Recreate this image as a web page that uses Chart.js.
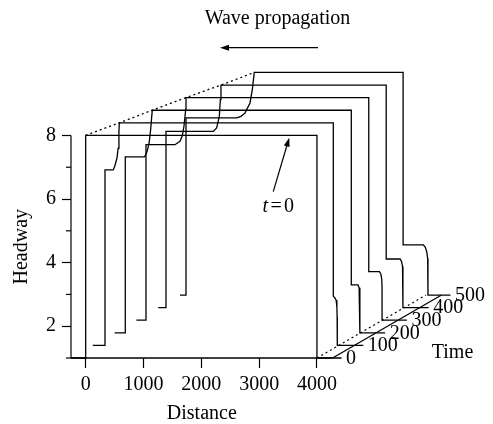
<!DOCTYPE html>
<html>
<head>
<meta charset="utf-8">
<script src="https://cdn.jsdelivr.net/npm/chart.js@4.4.1/dist/chart.umd.min.js"></script>
<style>
  html, body { margin: 0; padding: 0; background: #fff; }
</style>
</head>
<body>
<canvas id="waveChart" width="493" height="424"></canvas>
<script>
// time slices and the headway profile of each slice (distance, headway)
const times = [0, 100, 200, 300, 400, 500];

const dist0 = [0, 0, 4000, 4000];
const head0 = [1, 8, 8, 1];

const dist100 = [-43, -43, 100, 130, 165, 185, 198, 204, 3906, 3906, 3930, 3955, 3968, 3972, 3975];
const head100 = [1, 6.52, 6.52, 6.66, 6.9, 7.2, 7.7, 8, 8, 2.55, 2.5, 2.42, 2.2, 1.9, 1];

const dist200 = [-69, -69, 259, 285, 315, 345, 370, 388, 398, 3840, 3840, 3955, 3975, 3985, 3990, 3990];
const head200 = [1, 6.53, 6.53, 6.6, 6.75, 7.0, 7.4, 7.8, 8, 8, 2.51, 2.51, 2.42, 2.2, 1.9, 1];

const dist300 = [-88, -88, 413, 500, 540, 569, 599, 604, 3765, 3765, 3950, 3975, 3990, 3995, 3995];
const head300 = [1, 6.52, 6.52, 6.63, 6.8, 7.1, 7.63, 8, 8, 2.53, 2.53, 2.45, 2.28, 2.0, 1];

const dist400 = [-119, -119, 699, 757, 803, 821, 832, 3690, 3690, 3929, 3955, 3972, 3978, 3980];
const head400 = [1, 6.54, 6.54, 6.65, 7.01, 7.54, 8, 8, 2.53, 2.53, 2.45, 2.3, 2.05, 1];

const dist500 = [-150, -150, 727, 800, 870, 957, 997, 1031, 3605, 3605, 3955, 3990, 4015, 4030, 4035, 4035];
const head500 = [1, 6.57, 6.57, 6.62, 6.72, 7.04, 7.46, 8, 8, 2.58, 2.58, 2.5, 2.35, 2.15, 1.9, 1];

const sliceDist = [dist0, dist100, dist200, dist300, dist400, dist500];
const sliceHead = [head0, head100, head200, head300, head400, head500];

// where each slice first reaches the top level (dotted front line)
const frontDist = [0, 204, 398, 604, 832, 1031];

const distTicks = [0, 1000, 2000, 3000, 4000];
const headTicks = [1, 2, 3, 4, 5, 6, 7, 8];

// pseudo 3d: each time step moves the slice right and up
const SHIFT_X = 3.77;      // distance units per unit time
const SHIFT_Y = 0.00396;   // headway units per unit time
const FLOOR_START = -254;
const FLOOR_END = 4270;
const X_MIN = -254, X_MAX = 6820;
const Y_MIN = 1, Y_MAX = 10.686;

function project(d, h, t) {
    return { x: d + t * SHIFT_X, y: h + t * SHIFT_Y };
}

const datasets = [];

times.forEach((t, i) => {
    const pts = [project(FLOOR_START, 1, t)];
    sliceDist[i].forEach((d, j) => pts.push(project(d, sliceHead[i][j], t)));
    pts.push(project(FLOOR_END, 1, t));
    datasets.push({ data: pts });
});

// front distance axis
datasets.push({ data: [project(FLOOR_START, 1, 0), project(FLOOR_END, 1, 0)] });

// time axis and its tick marks
const last = times[times.length - 1];
datasets.push({ data: [project(FLOOR_END, 1, 0), project(FLOOR_END, 1, last)] });
const timeTickPts = [];
times.forEach(t => {
    timeTickPts.push(project(FLOOR_END, 1, t));
    timeTickPts.push(project(FLOOR_END + 155, 1, t));
    timeTickPts.push({ x: FLOOR_END + t * SHIFT_X, y: null });
});
datasets.push({ data: timeTickPts });

// dotted edges
datasets.push({ data: times.map((t, i) => project(frontDist[i], 8, t)), borderDash: [2, 3] });
datasets.push({ data: [project(4000, 1, 0), project(4000, 1, last)], borderDash: [2, 3] });

function arrow(ctx, x0, y0, x1, y1, len, half) {
    const a = Math.atan2(y1 - y0, x1 - x0);
    ctx.beginPath();
    ctx.moveTo(x0, y0);
    ctx.lineTo(x1 - Math.cos(a) * len * 0.8, y1 - Math.sin(a) * len * 0.8);
    ctx.stroke();
    ctx.beginPath();
    ctx.moveTo(x1, y1);
    ctx.lineTo(x1 - Math.cos(a) * len + Math.sin(a) * half, y1 - Math.sin(a) * len - Math.cos(a) * half);
    ctx.lineTo(x1 - Math.cos(a) * len - Math.sin(a) * half, y1 - Math.sin(a) * len + Math.cos(a) * half);
    ctx.closePath();
    ctx.fill();
}

const annotations = {
    id: 'annotations',
    afterDatasetsDraw(chart) {
        const ctx = chart.ctx;
        const xs = chart.scales.x, ys = chart.scales.y;
        const left = chart.chartArea.left;
        ctx.save();
        ctx.strokeStyle = '#000';
        ctx.fillStyle = '#000';
        ctx.lineWidth = 1.2;

        // front headway axis
        const ax = xs.getPixelForValue(FLOOR_START);
        ctx.beginPath();
        ctx.moveTo(ax, ys.getPixelForValue(1) + 0.6);
        ctx.lineTo(ax, ys.getPixelForValue(8));
        ctx.stroke();

        // short ticks on odd headway values
        headTicks.filter(v => v % 2 === 1).forEach(v => {
            const py = ys.getPixelForValue(v);
            ctx.beginPath();
            ctx.moveTo(left - 5, py);
            ctx.lineTo(left, py);
            ctx.stroke();
        });

        ctx.font = '20px "Liberation Serif", "Times New Roman", serif';

        // time tick labels
        ctx.textAlign = 'left';
        ctx.textBaseline = 'middle';
        times.forEach(t => {
            const p = project(FLOOR_END, 1, t);
            ctx.fillText(String(t), xs.getPixelForValue(p.x) + 13.5, ys.getPixelForValue(p.y) + 0.5);
        });

        ctx.textBaseline = 'alphabetic';
        ctx.textAlign = 'center';
        const axL = xs.getPixelForValue(FLOOR_START), axR = xs.getPixelForValue(FLOOR_END);
        ctx.fillText('Distance', (axL + axR) / 2, 418.5);
        ctx.fillText('Time', 452.5, 358);
        ctx.fillText('Wave propagation', 277.5, 23.5);

        ctx.save();
        ctx.translate(26.5, (ys.getPixelForValue(1) + ys.getPixelForValue(8)) / 2);
        ctx.rotate(-Math.PI / 2);
        ctx.fillText('Headway', 0, 0);
        ctx.restore();

        // propagation arrow
        arrow(ctx, 318, 47.7, 220, 47.7, 9, 3);

        // t = 0 label and arrow
        ctx.textAlign = 'left';
        ctx.font = 'italic 20px "Liberation Serif", "Times New Roman", serif';
        ctx.fillText('t', 262.5, 211.7);
        ctx.font = '20px "Liberation Serif", "Times New Roman", serif';
        ctx.fillText('=', 270.5, 211.7);
        ctx.fillText('0', 284, 211.7);
        arrow(ctx, xs.getPixelForValue(3244), ys.getPixelForValue(6.23),
              xs.getPixelForValue(3521), ys.getPixelForValue(7.93), 9, 3);
        ctx.restore();
    }
};

Chart.defaults.font.family = '"Liberation Serif", "Times New Roman", serif';
Chart.defaults.font.size = 20;
Chart.defaults.color = '#000';

new Chart(document.getElementById('waveChart'), {
    type: 'line',
    data: { datasets: datasets },
    options: {
        responsive: false,
        animation: false,
        layout: { padding: { top: 50, right: 13, left: 0, bottom: 0 } },
        plugins: { legend: { display: false }, tooltip: { enabled: false } },
        datasets: { line: { clip: false } },
        elements: {
            point: { radius: 0 },
            line: { borderWidth: 1.3, borderColor: '#000', tension: 0, fill: false }
        },
        scales: {
            x: {
                type: 'linear',
                min: X_MIN,
                max: X_MAX,
                afterFit: s => { s.height = 66; },
                afterBuildTicks: s => { s.ticks = distTicks.map(v => ({ value: v })); },
                grid: { drawOnChartArea: false, drawTicks: true, tickLength: 10, tickColor: '#000', tickWidth: 1.2 },
                border: { display: false },
                ticks: { padding: 5, autoSkip: false, maxRotation: 0, callback: v => String(v) }
            },
            y: {
                type: 'linear',
                min: Y_MIN,
                max: Y_MAX,
                afterFit: s => { s.width = 71; },
                afterBuildTicks: s => { s.ticks = headTicks.map(v => ({ value: v })); },
                grid: {
                    drawOnChartArea: false, drawTicks: true, tickLength: 9, tickWidth: 1.2,
                    tickColor: c => (c.tick && c.tick.value % 2 === 0) ? '#000' : 'rgba(0,0,0,0)'
                },
                border: { display: false },
                ticks: { padding: 6, autoSkip: false, callback: v => v % 2 === 0 ? String(v) : '' }
            }
        }
    },
    plugins: [annotations]
});
</script>
</body>
</html>
